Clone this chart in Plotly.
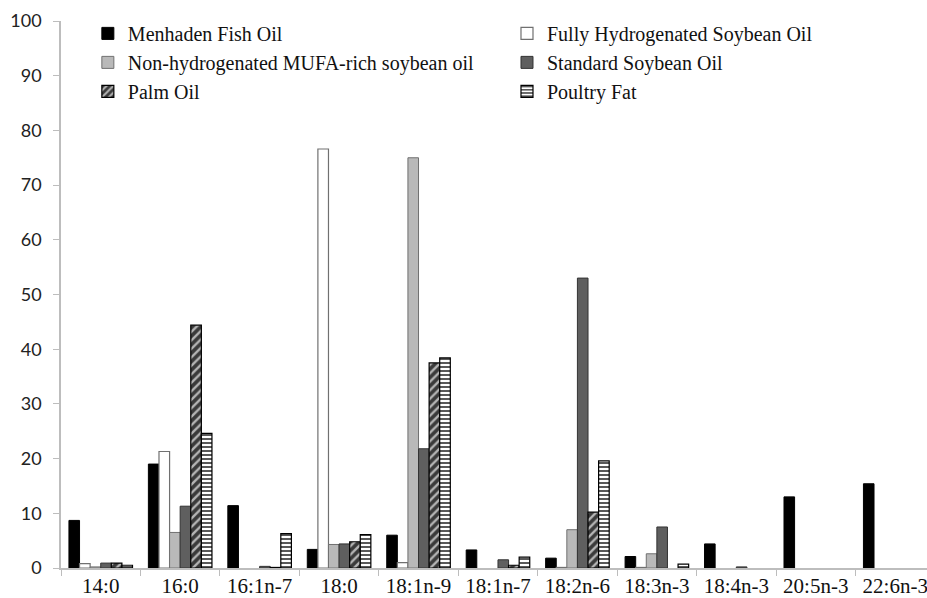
import plotly.graph_objects as go

categories = ["14:0", "16:0", "16:1n-7", "18:0", "18:1n-9", "18:1n-7",
              "18:2n-6", "18:3n-3", "18:4n-3", "20:5n-3", "22:6n-3"]

menhaden = [8.7, 19.0, 11.4, 3.4, 6.0, 3.3, 1.8, 2.1, 4.4, 13.0, 15.4]
fully_hydro = [0.8, 21.3, None, 76.6, 1.0, None, 0.1, 0.1, None, None, None]
mufa_soy = [0.2, 6.5, None, 4.3, 75.0, None, 7.0, 2.6, None, None, None]
standard_soy = [0.9, 11.3, 0.3, 4.4, 21.8, 1.5, 53.0, 7.5, 0.2, None, None]
palm = [0.9, 44.4, 0.1, 4.8, 37.5, 0.5, 10.2, None, None, None, None]
poultry = [0.5, 24.6, 6.3, 6.1, 38.4, 2.0, 19.6, 0.7, None, None, None]

names = ["Menhaden Fish Oil", "Fully Hydrogenated Soybean Oil",
         "Non-hydrogenated MUFA-rich soybean oil", "Standard Soybean Oil",
         "Palm Oil", "Poultry Fat"]

fig = go.Figure()
fig.add_bar(x=categories, y=menhaden, name=names[0], legend="legend",
            marker=dict(color="#000000", line=dict(color="#000000", width=1)))
fig.add_bar(x=categories, y=fully_hydro, name=names[1], legend="legend2",
            marker=dict(color="#ffffff", line=dict(color="#707070", width=1.2)))
fig.add_bar(x=categories, y=mufa_soy, name=names[2], legend="legend",
            marker=dict(color="#b9b9b9", line=dict(color="#707070", width=1)))
fig.add_bar(x=categories, y=standard_soy, name=names[3], legend="legend2",
            marker=dict(color="#5f5f5f", line=dict(color="#333333", width=1)))
fig.add_bar(x=categories, y=palm, name=names[4], legend="legend",
            marker=dict(color="#3a3a3a", line=dict(color="#000000", width=1.2),
                        pattern=dict(shape="/", fgcolor="#b5b5b5", bgcolor="#3a3a3a",
                                     size=6, solidity=0.4, fillmode="replace")))
fig.add_bar(x=categories, y=poultry, name=names[5], legend="legend2",
            marker=dict(color="#ffffff", line=dict(color="#000000", width=1.2),
                        pattern=dict(shape="-", fgcolor="#111111", bgcolor="#ffffff",
                                     size=4, solidity=0.35, fillmode="replace")))

legend_font = dict(family="Liberation Serif", size=20, color="#111111")

fig.update_layout(
    width=927, height=598,
    margin=dict(l=61, r=0, t=21, b=30, pad=0),
    paper_bgcolor="white", plot_bgcolor="white",
    barmode="group", bargap=0.2, bargroupgap=0,
    showlegend=True,
    legend=dict(orientation="v", x=0.031, y=1.013, xanchor="left", yanchor="top",
                font=legend_font, bgcolor="rgba(0,0,0,0)", traceorder="normal",
                itemwidth=30),
    legend2=dict(orientation="v", x=0.515, y=1.013, xanchor="left", yanchor="top",
                 font=legend_font, bgcolor="rgba(0,0,0,0)", traceorder="normal",
                 itemwidth=30),
    xaxis=dict(range=[-0.5, 10.4], showline=True, linecolor="#bdbdbd", linewidth=1.5,
               ticks="outside", tickson="boundaries", ticklen=6, tickcolor="#bdbdbd",
               showgrid=False, zeroline=False, ticklabelstandoff=-2, automargin=False,
               tickfont=dict(family="Liberation Serif", size=21, color="#111111")),
    yaxis=dict(range=[0, 100], tickvals=list(range(0, 101, 10)), showline=True,
               linecolor="#bdbdbd", linewidth=1.5, ticks="outside", ticklen=6,
               tickcolor="#bdbdbd", showgrid=False, zeroline=False,
               ticklabelstandoff=8, automargin=False,
               tickfont=dict(family="Lato", size=18, color="#222222")),
)

fig.write_html("out.html", config={"displayModeBar": False},
               post_script="document.body.style.margin='0';document.body.style.overflow='hidden';")
